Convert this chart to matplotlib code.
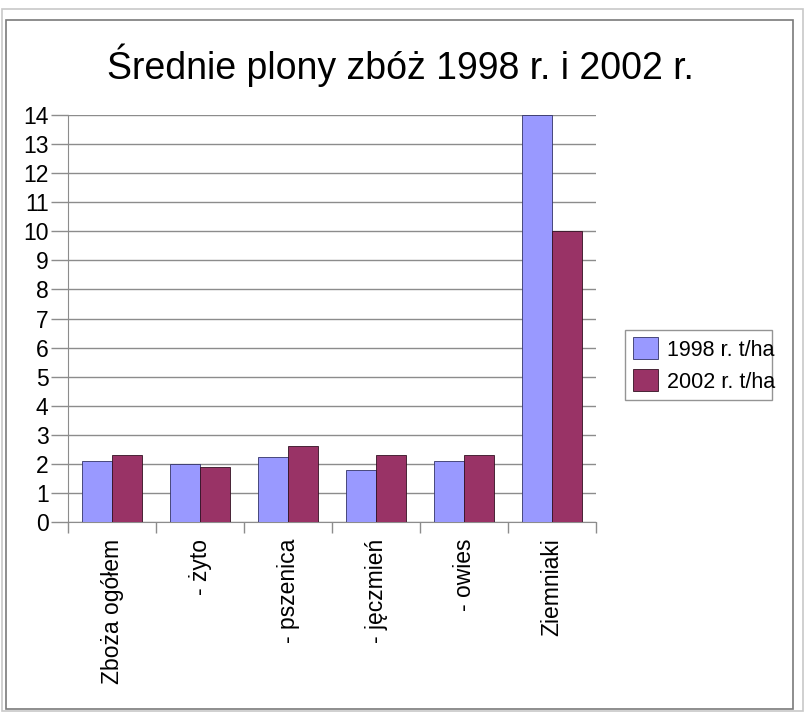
import matplotlib.pyplot as plt
import matplotlib.patches as patches
import numpy as np

plt.rcParams['font.family'] = ['Liberation Sans', 'DejaVu Sans']

kategorie = ['Zboża ogółem', '- żyto', '- pszenica', '- jęczmień', '- owies', 'Ziemniaki']
plony_1998 = [2.1, 2.0, 2.25, 1.8, 2.1, 14.0]
plony_2002 = [2.3, 1.9, 2.6, 2.3, 2.3, 10.0]
etykiety = ['1998 r. t/ha', '2002 r. t/ha']
kolory = ['#9999ff', '#993366']

fig = plt.figure(figsize=(8.05, 7.12), dpi=100)

# ramka wokol wykresu
fig.patches.append(patches.Rectangle((2 / 805, 1 / 712), 801 / 805, 702 / 712,
                                     transform=fig.transFigure, fill=False,
                                     edgecolor='#c8c8c8', linewidth=1.2))
fig.patches.append(patches.Rectangle((6 / 805, 3 / 712), 787 / 805, 689 / 712,
                                     transform=fig.transFigure, fill=False,
                                     edgecolor='#7a7a7a', linewidth=1.2))

ax = fig.add_axes([68 / 805, 1 - 522 / 712, 528 / 805, 407 / 712])

x = np.arange(len(kategorie))
w = 0.34
ax.bar(x - w / 2, plony_1998, w, color=kolory[0], edgecolor='#333366', linewidth=0.6,
       label=etykiety[0], zorder=3)
ax.bar(x + w / 2, plony_2002, w, color=kolory[1], edgecolor='#331122', linewidth=0.6,
       label=etykiety[1], zorder=3)

ax.set_xlim(-0.5, len(kategorie) - 0.5)
ax.set_ylim(0, 14)
ax.set_yticks(range(0, 15))
ax.yaxis.grid(True, color='#8c8c8c', linewidth=1.0, zorder=0)
ax.tick_params(axis='y', length=12, width=1, color='#8c8c8c', pad=2, labelsize=16.5)

ax.set_xticks(x)
ax.set_xticklabels(kategorie, rotation=90, fontsize=16.5, va='top')
ax.set_xticks(np.arange(-0.5, len(kategorie), 1), minor=True)
ax.tick_params(axis='x', which='major', length=0, pad=12)
ax.tick_params(axis='x', which='minor', length=8, width=1, color='#8c8c8c')

for s in ['top', 'right']:
    ax.spines[s].set_visible(False)
ax.spines['left'].set_color('#8c8c8c')
ax.spines['bottom'].set_color('#8c8c8c')

fig.text(400 / 805, 1 - 65 / 712, 'Średnie plony zbóż 1998 r. i 2002 r.',
         ha='center', va='center', fontsize=27)

leg = ax.legend(loc='center left', bbox_to_anchor=(625 / 805, 1 - 400 / 712, 147 / 805, 70 / 712),
                bbox_transform=fig.transFigure, fontsize=15.5, frameon=True, fancybox=False,
                handlelength=1.2, handleheight=1.2, handletextpad=0.4, borderpad=0.35,
                borderaxespad=0, labelspacing=0.4, mode='expand')
leg.get_frame().set_edgecolor('#7a7a7a')
leg.get_frame().set_linewidth(1.0)

fig.savefig('out.png', dpi=100)
